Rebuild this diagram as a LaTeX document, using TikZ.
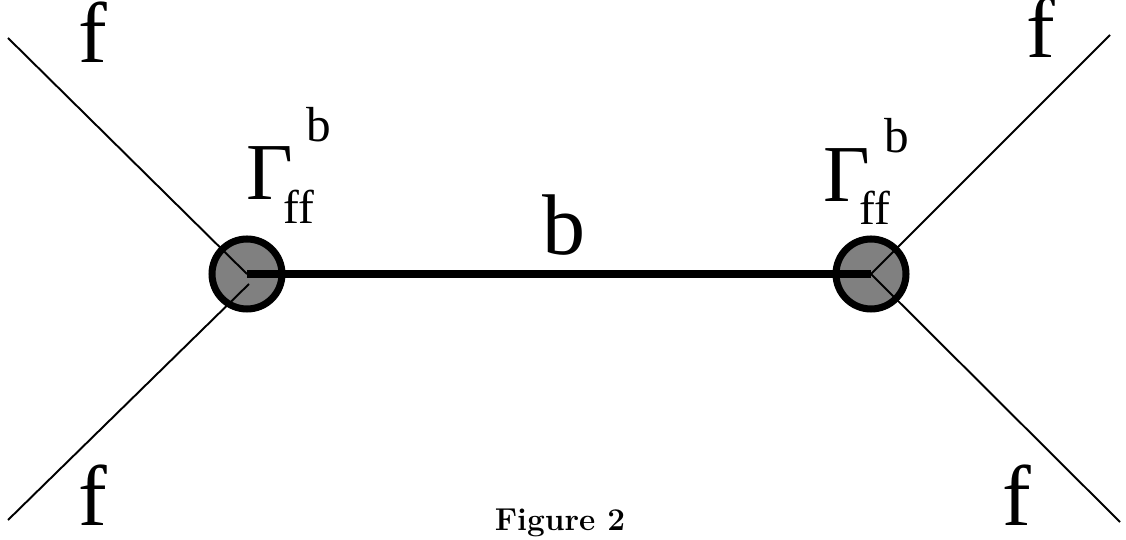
\documentclass[tikz,border=0pt]{standalone}
\usepackage{fontspec}
\setmainfont{Liberation Serif}
\newfontfamily\cmfont{Latin Modern Roman}
\begin{document}
\begin{tikzpicture}[x=0.02cm,y=-0.02cm,
  leg/.style={line width=1.1pt},
  prop/.style={line width=4pt},
  vertex/.style={circle,draw=black,fill=gray,line width=4pt,minimum size=1.4cm,inner sep=0pt},
  bigf/.style={font=\fontsize{49}{52}\selectfont,inner sep=0pt,anchor=base},
  gam/.style={font=\fontsize{46}{50}\selectfont,inner sep=0pt,anchor=base west},
  sub/.style={font=\fontsize{27}{30}\selectfont,inner sep=0pt,anchor=base west},
  sup/.style={font=\fontsize{28}{30}\selectfont,inner sep=0pt,anchor=base west}]
\useasboundingbox (0,0) rectangle (1126,540);
\node[vertex] (L) at (247,274) {};
\node[vertex] (R) at (871,274) {};
\coordinate (a1) at (8,38);
\coordinate (a2) at (8,520);
\coordinate (a2e) at (249,284);
\coordinate (b1) at (1110,35);
\coordinate (b2) at (1120,522);
\draw[leg] (a1) -- (L.center);
\draw[leg] (a2) -- (a2e);
\draw[leg] (b1) -- (R.center);
\draw[leg] (b2) -- (R.center);
\draw[prop] (L.center) -- (R.center);
\node[bigf] (f1) at (93,63) {f};
\node[bigf] (f2) at (93,525) {f};
\node[bigf] (f3) at (1041,58) {f};
\node[bigf] (f4) at (1017,525) {f};
\node[gam] (g1) at (246,200) {Γ};
\node[sub] (s1) at (283,224) {ff};
\node[sup] (p1) at (306,142) {b};
\node[gam] (g2) at (823,202) {Γ};
\node[sub] (s2) at (859,225) {ff};
\node[sup] (p2) at (884,153) {b};
\node[bigf] (bm) at (564,255) {b};
\node[font=\cmfont\bfseries\fontsize{18}{21}\selectfont,inner sep=0pt,anchor=base] (cap) at (560,530) {Figure 2};
\end{tikzpicture}
\end{document}
